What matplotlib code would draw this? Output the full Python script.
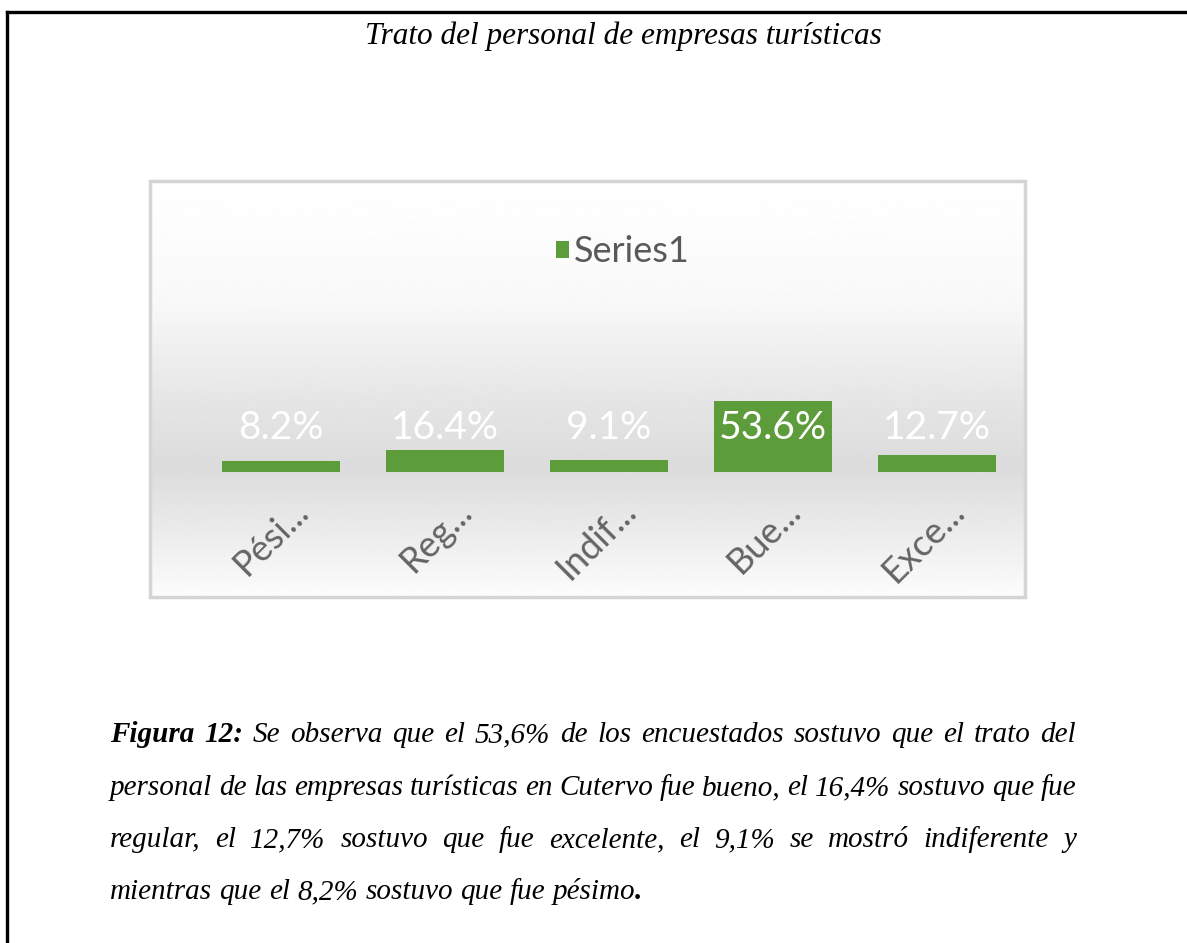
import numpy as np
import matplotlib
matplotlib.use("Agg")
import matplotlib.pyplot as plt
from matplotlib.patches import Rectangle
from matplotlib.lines import Line2D
from matplotlib.transforms import ScaledTranslation

# data
categories = ["Pési...", "Reg...", "Indif...", "Bue...", "Exce..."]
values = [8.2, 16.4, 9.1, 53.6, 12.7]
series_name = "Series1"

title = "Trato del personal de empresas turísticas"
caption_lines = [
    [("Figura", True), ("12:", True), ("Se", False), ("observa", False), ("que", False), ("el", False),
     ("53,6%", False), ("de", False), ("los", False), ("encuestados", False), ("sostuvo", False),
     ("que", False), ("el", False), ("trato", False), ("del", False)],
    [("personal", False), ("de", False), ("las", False), ("empresas", False), ("turísticas", False),
     ("en", False), ("Cutervo", False), ("fue", False), ("bueno,", False), ("el", False),
     ("16,4%", False), ("sostuvo", False), ("que", False), ("fue", False)],
    [("regular,", False), ("el", False), ("12,7%", False), ("sostuvo", False), ("que", False),
     ("fue", False), ("excelente,", False), ("el", False), ("9,1%", False), ("se", False),
     ("mostró", False), ("indiferente", False), ("y", False)],
    [("mientras", False), ("que", False), ("el", False), ("8,2%", False), ("sostuvo", False),
     ("que", False), ("fue", False), ("pésimo", False)],
]

W, H = 1187, 943
fig = plt.figure(figsize=(W / 100, H / 100), dpi=100)
fig.patch.set_facecolor("white")


def fx(x):
    return x / W


def fy(y):
    return 1 - y / H


# page border (top and left only)
fig.add_artist(Line2D([fx(7), 1], [fy(12), fy(12)], color="black", lw=2.4, transform=fig.transFigure))
fig.add_artist(Line2D([fx(7), fx(7)], [fy(12), 0], color="black", lw=2.4, transform=fig.transFigure))

fig.text(fx(623), fy(36), title, ha="center", va="center", fontsize=22.5,
         family="Liberation Serif", style="italic")

# chart panel with vertical gradient
px0, px1, py0, py1 = 150, 1025, 181, 597
bg = fig.add_axes([fx(px0), fy(py1), fx(px1 - px0), (py1 - py0) / H])
rows = np.linspace(py0, py1, 300)
shade = np.interp(rows, [181, 300, 400, 465, 520, 597], [1.0, 0.975, 0.9, 0.86, 0.91, 0.99])
grad = np.repeat(shade[:, None], 2, axis=1)
bg.imshow(grad, cmap="gray", vmin=0, vmax=1, aspect="auto", extent=[0, 1, 0, 1])
bg.set_axis_off()
fig.add_artist(Rectangle((fx(px0), fy(py1)), fx(px1 - px0), (py1 - py0) / H, fill=False,
                         edgecolor="#d4d4d4", lw=2.5, transform=fig.transFigure))

# bar axes
ax = fig.add_axes([fx(199), fy(472), fx(820), 80 / H])
ax.patch.set_visible(False)
x = np.arange(len(categories))
bars = ax.bar(x, values, width=0.72, color="#5c9c3a", label=series_name)
ax.set_xlim(-0.5, len(categories) - 0.5)
ax.set_ylim(0, 60)
for s in ax.spines.values():
    s.set_visible(False)
ax.set_yticks([])
ax.set_xticks(x)
ax.set_xticklabels(categories, rotation=45, ha="right", va="center", rotation_mode="anchor",
                   fontsize=26, family="Lato", color="#646464")
ax.tick_params(axis="x", length=0, pad=24)
offset = ScaledTranslation(22 / 100, 0, fig.dpi_scale_trans)
for lbl in ax.get_xticklabels():
    lbl.set_transform(lbl.get_transform() + offset)

for xi, v in zip(x, values):
    ax.text(xi, 33, f"{v:.1f}%", ha="center", va="center", fontsize=28, family="Lato",
            color="white")

fig.legend(handles=[bars], labels=[series_name], loc="center", bbox_to_anchor=(fx(623), fy(252)),
           frameon=False, prop={"family": "Lato", "size": 26}, handlelength=0.35,
           handleheight=0.35, handletextpad=0.15, labelcolor="#595959")

# caption, justified like the source document
renderer = fig.canvas.get_renderer()
left, right = 110, 1076
line_y = [742, 795, 847, 899]
fsz = 21
for i, (tokens, yb) in enumerate(zip(caption_lines, line_y)):
    texts = []
    for word, bold in tokens:
        t = fig.text(0, fy(yb), word, fontsize=fsz, family="Liberation Serif", style="italic",
                     weight="bold" if bold else "normal", va="baseline", ha="left")
        texts.append(t)
    widths = [t.get_window_extent(renderer).width for t in texts]
    if i < len(caption_lines) - 1:
        gap = (right - left - sum(widths)) / (len(texts) - 1)
    else:
        gap = fsz * 100 / 72 * 0.25
    cur = left
    for t, w in zip(texts, widths):
        t.set_x(fx(cur))
        cur += w + gap
    if i == len(caption_lines) - 1:
        fig.text(fx(cur - gap), fy(yb), ".", fontsize=fsz, family="Liberation Serif",
                 style="italic", weight="bold", va="baseline", ha="left")

fig.savefig("out.png", dpi=100)
